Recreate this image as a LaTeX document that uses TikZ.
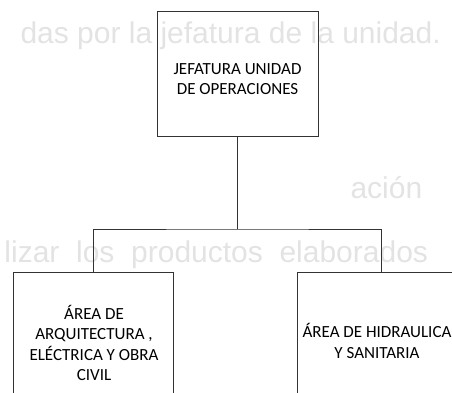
\documentclass[tikz,border=0pt]{standalone}
\usepackage{fontspec}
\setmainfont{Carlito}
\newfontfamily\scanfont{Liberation Sans}
\tikzset{
  unitbox/.style={draw=black!80, line width=1pt, minimum width=161pt},
  unittext/.style={align=center, font=\fontsize{17}{20.5}\selectfont},
  ghost/.style={text=gray!22, inner sep=0pt, font=\scanfont\fontsize{30}{30}\selectfont},
}
\begin{document}
\begin{tikzpicture}[x=1pt, y=-1pt, line width=1pt]
  \useasboundingbox (0,0) rectangle (452,393);
  \begin{scope}
    \clip (0,0) rectangle (452,393);
    % Text from the back of the page
    \node[ghost, anchor=base west] (back1) at (20,44) {das por la jefatura de la unidad.};
    \node[ghost, anchor=base west] (back2) at (350,198) {ación};
    \node[ghost, anchor=base west] (back3) at (4,262) {lizar \ los \ productos \ elaborados};
    % Units
    \node[unitbox, minimum height=124pt] (jefatura) at (237.5,74) {};
    \node[unittext] (jefaturatext) at (237.5,79) {JEFATURA UNIDAD\\DE OPERACIONES};
    \node[unitbox, minimum height=150pt, minimum width=160pt] (arq) at (93,347) {};
    \node[unittext] (arqtext) at (94,343) {ÁREA DE\\ARQUITECTURA ,\\ELÉCTRICA Y OBRA\\CIVIL};
    \node[unitbox, minimum height=150pt, minimum width=168pt] (hidra) at (381,347) {};
    \node[unittext] (hidratext) at (377,341) {ÁREA DE HIDRAULICA\\Y SANITARIA};
    % Connectors
    \coordinate (bus) at (237.5,229);
    \draw[black!80] (jefatura.south) -- (bus);
    \draw[black!80] (arq.north) |- (bus) -| (hidra.north);
  \end{scope}
\end{tikzpicture}
\end{document}
